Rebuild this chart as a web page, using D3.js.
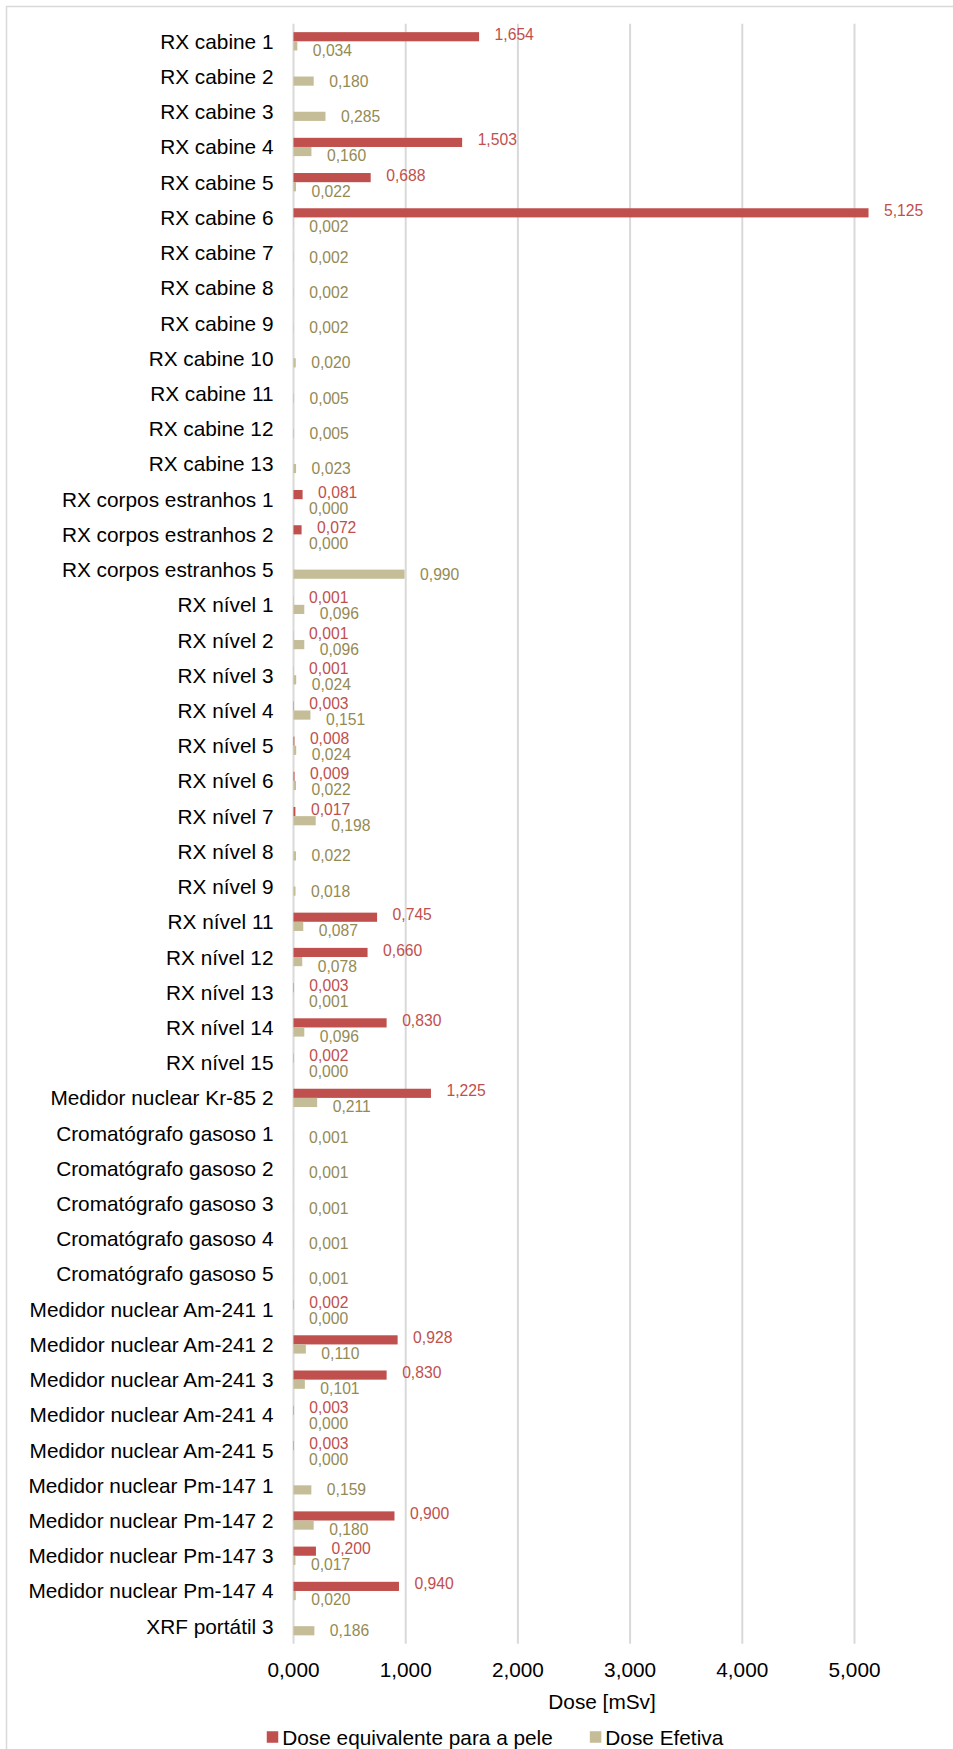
<!DOCTYPE html>
<html>
<head>
<meta charset="utf-8">
<script src="https://cdn.jsdelivr.net/npm/d3@7"></script>
<style>
  html, body { margin: 0; padding: 0; background: #fff; }
  svg { display: block; font-family: "Liberation Sans", Arial, sans-serif; }
</style>
</head>
<body>
<svg id="chart" width="953" height="1749"></svg>
<script>
// Dose per equipment (mSv)
const categories = [
  "RX cabine 1", "RX cabine 2", "RX cabine 3", "RX cabine 4", "RX cabine 5",
  "RX cabine 6", "RX cabine 7", "RX cabine 8", "RX cabine 9", "RX cabine 10",
  "RX cabine 11", "RX cabine 12", "RX cabine 13",
  "RX corpos estranhos 1", "RX corpos estranhos 2", "RX corpos estranhos 5",
  "RX nível 1", "RX nível 2", "RX nível 3", "RX nível 4", "RX nível 5",
  "RX nível 6", "RX nível 7", "RX nível 8", "RX nível 9", "RX nível 11",
  "RX nível 12", "RX nível 13", "RX nível 14", "RX nível 15",
  "Medidor nuclear Kr-85 2",
  "Cromatógrafo gasoso 1", "Cromatógrafo gasoso 2", "Cromatógrafo gasoso 3",
  "Cromatógrafo gasoso 4", "Cromatógrafo gasoso 5",
  "Medidor nuclear Am-241 1", "Medidor nuclear Am-241 2", "Medidor nuclear Am-241 3",
  "Medidor nuclear Am-241 4", "Medidor nuclear Am-241 5",
  "Medidor nuclear Pm-147 1", "Medidor nuclear Pm-147 2", "Medidor nuclear Pm-147 3",
  "Medidor nuclear Pm-147 4",
  "XRF portátil 3"
];

// Dose equivalente para a pele (null = not measured)
const dosePele = [
  1.654, null, null, 1.503, 0.688,
  5.125, null, null, null, null,
  null, null, null,
  0.081, 0.072, null,
  0.001, 0.001, 0.001, 0.003, 0.008,
  0.009, 0.017, null, null, 0.745,
  0.660, 0.003, 0.830, 0.002,
  1.225,
  null, null, null,
  null, null,
  0.002, 0.928, 0.830,
  0.003, 0.003,
  null, 0.900, 0.200,
  0.940,
  null
];

// Dose Efetiva
const doseEfetiva = [
  0.034, 0.180, 0.285, 0.160, 0.022,
  0.002, 0.002, 0.002, 0.002, 0.020,
  0.005, 0.005, 0.023,
  0.000, 0.000, 0.990,
  0.096, 0.096, 0.024, 0.151, 0.024,
  0.022, 0.198, 0.022, 0.018, 0.087,
  0.078, 0.001, 0.096, 0.000,
  0.211,
  0.001, 0.001, 0.001,
  0.001, 0.001,
  0.000, 0.110, 0.101,
  0.000, 0.000,
  0.159, 0.180, 0.017,
  0.020,
  0.186
];

const seriesNames = ["Dose equivalente para a pele", "Dose Efetiva"];
const xTicks = [0, 1, 2, 3, 4, 5];
const axisTitle = "Dose [mSv]";

const barColors = ["#C0504D", "#C4BD97"];
const labelColors = ["#C0504D", "#948A54"];
const gridColor = "#D9D9D9";
const textFont = 20.8;
const labelFont = 15.7;

const locale = d3.formatLocale({ decimal: ",", thousands: ".", grouping: [3], currency: ["", ""] });
const fmt = locale.format(".3f");

const svg = d3.select("#chart");

// Chart frame (left and top edges visible)
svg.append("rect")
  .attr("x", 6.5).attr("y", 6.5)
  .attr("width", 1000).attr("height", 1800)
  .attr("fill", "none")
  .attr("stroke", gridColor)
  .attr("stroke-width", 1.5);

const plot = { left: 293.5, right: 910.6, top: 23.7, bottom: 1643.8 };

const x = d3.scaleLinear().domain([0, 5.5]).range([plot.left, plot.right]);

const y = d3.scaleBand()
  .domain(categories)
  .range([plot.top, plot.bottom])
  .paddingInner(0.48)
  .paddingOuter(0.24);

const ySeries = d3.scaleBand()
  .domain([0, 1])
  .range([0, y.bandwidth()]);

// Vertical gridlines (tick at 0 doubles as the category axis line)
svg.append("g").selectAll("line")
  .data(xTicks)
  .join("line")
  .attr("x1", d => x(d)).attr("x2", d => x(d))
  .attr("y1", plot.top).attr("y2", plot.bottom)
  .attr("stroke", gridColor)
  .attr("stroke-width", 2);

// X tick labels
svg.append("g").selectAll("text")
  .data(xTicks)
  .join("text")
  .attr("x", d => x(d))
  .attr("y", 1669.5)
  .attr("text-anchor", "middle")
  .attr("dominant-baseline", "central")
  .attr("font-size", textFont)
  .attr("fill", "#000")
  .text(d => fmt(d));

// Axis title
svg.append("text")
  .attr("x", (plot.left + plot.right) / 2)
  .attr("y", 1701)
  .attr("text-anchor", "middle")
  .attr("dominant-baseline", "central")
  .attr("font-size", textFont)
  .attr("fill", "#000")
  .text(axisTitle);

// Category labels
svg.append("g").selectAll("text")
  .data(categories)
  .join("text")
  .attr("x", plot.left - 20)
  .attr("y", d => y(d) + y.bandwidth() / 2)
  .attr("text-anchor", "end")
  .attr("dominant-baseline", "central")
  .attr("font-size", textFont)
  .attr("fill", "#000")
  .text(d => d);

// Build rows
const rows = categories.map((c, i) => ({ cat: c, vals: [dosePele[i], doseEfetiva[i]] }));

const barData = [];
const labelData = [];
rows.forEach(r => {
  const both = r.vals[0] !== null && r.vals[1] !== null;
  const center = y(r.cat) + y.bandwidth() / 2;
  r.vals.forEach((v, s) => {
    if (v === null) return;
    barData.push({ cat: r.cat, s, v });
    let ly;
    // when both series are labelled, spread the two labels apart vertically
    if (both) ly = s === 0 ? center - 7 : center + 9;
    else ly = y(r.cat) + ySeries(s) + ySeries.bandwidth() / 2;
    labelData.push({ s, v, ly });
  });
});

// Bars
svg.append("g").selectAll("rect")
  .data(barData)
  .join("rect")
  .attr("x", x(0))
  .attr("y", d => y(d.cat) + ySeries(d.s))
  .attr("width", d => x(d.v) - x(0))
  .attr("height", ySeries.bandwidth())
  .attr("fill", d => barColors[d.s]);

// Data labels
svg.append("g").selectAll("text")
  .data(labelData)
  .join("text")
  .attr("x", d => x(d.v) + 15.5)
  .attr("y", d => d.ly)
  .attr("dominant-baseline", "central")
  .attr("font-size", labelFont)
  .attr("fill", d => labelColors[d.s])
  .text(d => fmt(d.v));

// Legend
const legend = svg.append("g");
const sq = 11.5, gapText = 4, gapItems = 37;
let cursor = 0;
seriesNames.forEach((name, i) => {
  const g = legend.append("g");
  g.append("rect")
    .attr("x", 0).attr("y", -sq / 2)
    .attr("width", sq).attr("height", sq)
    .attr("fill", barColors[i]);
  const t = g.append("text")
    .attr("x", sq + gapText).attr("y", 0)
    .attr("dominant-baseline", "central")
    .attr("font-size", textFont)
    .attr("fill", "#000")
    .text(name);
  const w = sq + gapText + t.node().getComputedTextLength();
  g.attr("transform", `translate(${cursor},0)`);
  cursor += w + gapItems;
});
const totalW = cursor - gapItems;
legend.attr("transform", `translate(${495 - totalW / 2},1737)`);
</script>
</body>
</html>
